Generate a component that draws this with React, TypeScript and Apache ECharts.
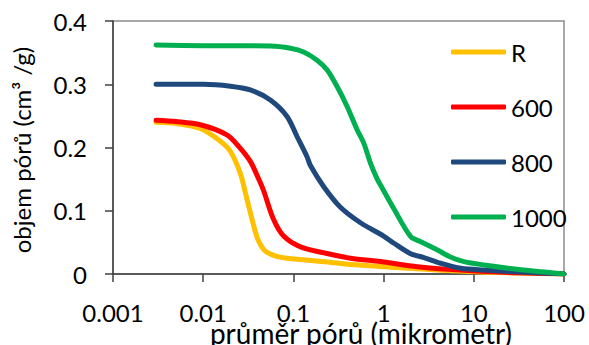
import React, { useEffect, useRef } from "react";
import * as echarts from "echarts";

const seriesNames = ["R", "600", "800", "1000"];
const seriesColors = ["#FFC000", "#FF0000", "#1F497D", "#00B050"];

const xR = [0.003, 0.005, 0.0093, 0.0155, 0.02, 0.0258, 0.0295, 0.0333, 0.0395, 0.045, 0.051, 0.065, 0.085, 0.24, 0.43, 2.0, 8.5, 30, 100];
const yR = [0.240, 0.238, 0.230, 0.210, 0.194, 0.159, 0.127, 0.097, 0.058, 0.042, 0.034, 0.028, 0.025, 0.019, 0.015, 0.009, 0.004, 0.0015, 0];

const x600 = [0.003, 0.005, 0.0093, 0.0183, 0.025, 0.0333, 0.041, 0.0467, 0.06, 0.078, 0.12, 0.28, 0.43, 1.0, 2.36, 8.5, 30, 100];
const y600 = [0.243, 0.241, 0.236, 0.220, 0.201, 0.178, 0.151, 0.132, 0.087, 0.060, 0.043, 0.030, 0.025, 0.019, 0.0115, 0.0055, 0.002, 0];

const x800 = [0.003, 0.01, 0.02, 0.0333, 0.0555, 0.085, 0.11, 0.142, 0.155, 0.217, 0.33, 0.555, 1.0, 1.29, 2.0, 2.8, 4.3, 7.2, 13, 30, 100];
const y800 = [0.300, 0.300, 0.297, 0.291, 0.275, 0.249, 0.217, 0.185, 0.171, 0.138, 0.106, 0.081, 0.060, 0.049, 0.032, 0.026, 0.017, 0.009, 0.0063, 0.0036, 0];

const x1000 = [0.003, 0.01, 0.0555, 0.0926, 0.13, 0.183, 0.237, 0.306, 0.395, 0.51, 0.604, 0.717, 0.85, 0.93, 1.3, 2.0, 2.58, 3.95, 5.5, 7.8, 13, 30, 72, 100];
const y1000 = [0.362, 0.361, 0.3605, 0.357, 0.351, 0.338, 0.3225, 0.296, 0.2645, 0.2277, 0.2066, 0.175, 0.150, 0.140, 0.103, 0.059, 0.051, 0.038, 0.027, 0.0195, 0.0142, 0.0074, 0.002, 0];

const xTicks = ["0.001", "0.01", "0.1", "1", "10", "100"];
const yTicks = ["0", "0.1", "0.2", "0.3", "0.4"];

const allX = [xR, x600, x800, x1000];
const allY = [yR, y600, y800, y1000];

const FONT = "Lato";
const FS = 24;

export default function App() {
  const ref = useRef<HTMLDivElement>(null);
  useEffect(() => {
    document.body.style.margin = "0";
    if (!ref.current) return;
    const chart = echarts.init(ref.current, null, { renderer: "svg" });
    const axisText = { color: "#000", fontSize: FS, fontFamily: FONT };
    chart.setOption({
      animation: false,
      backgroundColor: "#fff",
      grid: {
        left: 113,
        right: 25,
        top: 21,
        bottom: 71,
        show: true,
        borderColor: "#8c8c8c",
        borderWidth: 1.5,
      },
      legend: {
        orient: "vertical",
        left: 451,
        top: 40,
        padding: 0,
        itemWidth: 55,
        itemHeight: 5,
        itemGap: 31,
        textStyle: { color: "#000", fontSize: FS, fontFamily: FONT },
        data: seriesNames.map((n) => ({ name: n, icon: "roundRect" })),
      },
      xAxis: {
        type: "log",
        logBase: 10,
        min: 0.001,
        max: 100,
        axisLine: { show: true, lineStyle: { color: "#404040", width: 1.5 } },
        axisTick: { show: true, length: 8, lineStyle: { color: "#404040", width: 1.5 } },
        minorTick: { show: false },
        splitLine: { show: false },
        axisLabel: {
          ...axisText,
          margin: 26,
          formatter: (v: number) => {
            const i = Math.round(Math.log10(v)) + 3;
            return xTicks[i] ?? String(v);
          },
        },
      },
      yAxis: {
        type: "value",
        min: 0,
        max: 0.4,
        interval: 0.1,
        axisLine: { show: true, lineStyle: { color: "#404040", width: 1.5 } },
        axisTick: { show: true, length: 8, lineStyle: { color: "#404040", width: 1.5 } },
        splitLine: { show: false },
        axisLabel: {
          ...axisText,
          margin: 26,
          formatter: (v: number) => yTicks[Math.round(v * 10)] ?? String(v),
        },
      },
      graphic: [
        {
          type: "text",
          x: 21,
          y: 150,
          rotation: Math.PI / 2,
          style: {
            text: "objem pórů (cm³ /g)",
            fontSize: FS,
            fontFamily: FONT,
            fill: "#000",
            align: "center",
            verticalAlign: "middle",
          },
        },
        {
          type: "text",
          x: 361,
          y: 333,
          style: {
            text: "průměr pórů (mikrometr)",
            fontSize: 28,
            fontFamily: FONT,
            fill: "#000",
            align: "center",
            verticalAlign: "middle",
          },
        },
      ],
      series: seriesNames.map((name, k) => ({
        name,
        type: "line",
        showSymbol: false,
        symbol: "none",
        smooth: 0.3,
        color: seriesColors[k],
        lineStyle: { width: 5, color: seriesColors[k], cap: "round" },
        data: allX[k].map((x, i) => [x, allY[k][i]]),
      })),
    });
    return () => chart.dispose();
  }, []);
  return <div ref={ref} style={{ width: 589, height: 345 }} />;
}
